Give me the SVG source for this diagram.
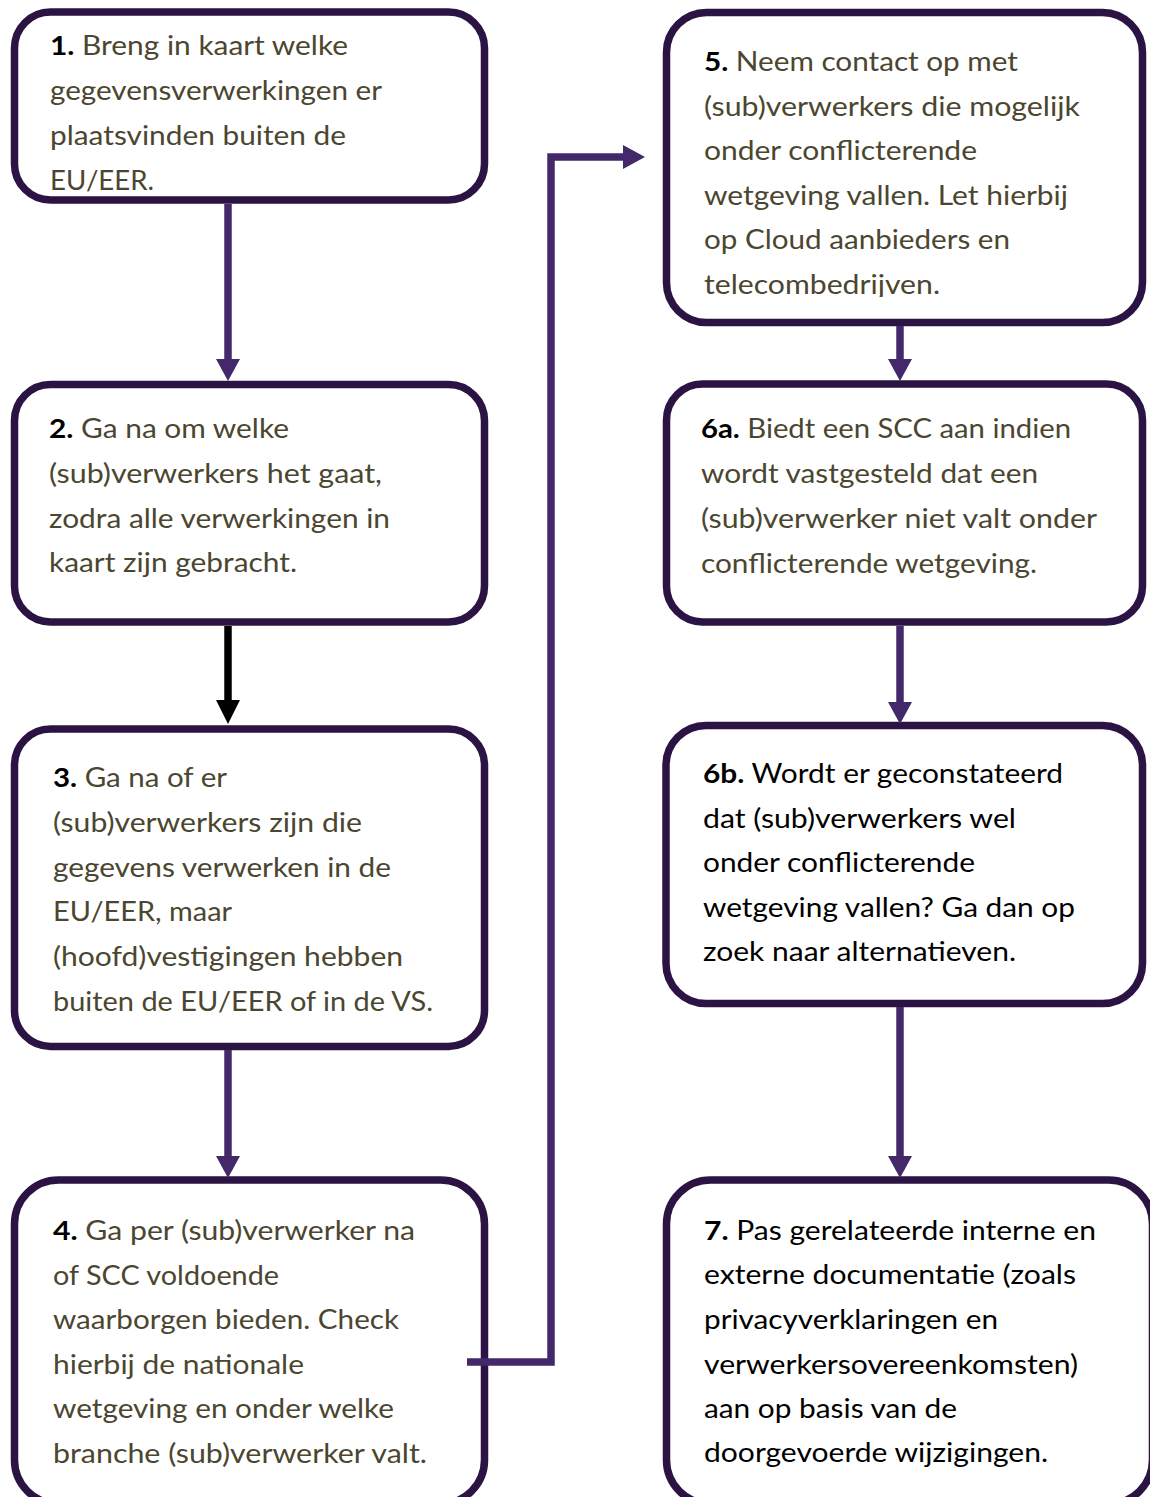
<svg xmlns="http://www.w3.org/2000/svg" width="1150" height="1497" viewBox="0 0 1150 1497">
<defs>
<style>
.box{fill:#ffffff;stroke:#2b1443;stroke-width:7.5}
.t{font-family:Lato,"Liberation Sans",sans-serif;font-size:26px;fill:#4b4630}
.k{fill:#000000}
.b{font-weight:bold;fill:#000000}
.c{fill:none;stroke:#43286a;stroke-width:7.5}
.cb{fill:none;stroke:#000000;stroke-width:7.5}
</style>
<marker id="ah" viewBox="0 0 22 24" refX="1" refY="12" markerWidth="22" markerHeight="24" markerUnits="userSpaceOnUse" orient="auto">
<path d="M0,0 L22,12 L0,24 Z" fill="#43286a"/>
</marker>
<marker id="ahb" viewBox="0 0 24 24" refX="1" refY="12" markerWidth="24" markerHeight="24" markerUnits="userSpaceOnUse" orient="auto">
<path d="M0,0 L24,12 L0,24 Z" fill="#000000"/>
</marker>
<clipPath id="clip5"><rect x="660" y="0" width="490" height="297"/></clipPath>
</defs>
<rect width="1150" height="1497" fill="#ffffff"/>

<g id="n1">
<rect class="box" x="14.5" y="12" width="470" height="188" rx="36"/>
<text class="t" x="50" y="55" textLength="298" lengthAdjust="spacingAndGlyphs"><tspan class="b">1.</tspan> Breng in kaart welke</text>
<text class="t" x="50" y="100" textLength="332" lengthAdjust="spacingAndGlyphs">gegevensverwerkingen er</text>
<text class="t" x="50" y="145" textLength="296" lengthAdjust="spacingAndGlyphs">plaatsvinden buiten de</text>
<text class="t" x="50" y="190" textLength="104" lengthAdjust="spacingAndGlyphs">EU/EER.</text>
</g>

<g id="n2">
<rect class="box" x="14.5" y="384.5" width="470" height="237.5" rx="36"/>
<text class="t" x="49" y="438" textLength="240" lengthAdjust="spacingAndGlyphs"><tspan class="b">2.</tspan> Ga na om welke</text>
<text class="t" x="49" y="483" textLength="333" lengthAdjust="spacingAndGlyphs">(sub)verwerkers het gaat,</text>
<text class="t" x="49" y="528" textLength="341" lengthAdjust="spacingAndGlyphs">zodra alle verwerkingen in</text>
<text class="t" x="49" y="572" textLength="248" lengthAdjust="spacingAndGlyphs">kaart zijn gebracht.</text>
</g>

<g id="n3">
<rect class="box" x="14.5" y="729" width="470" height="317.5" rx="36"/>
<text class="t" x="53" y="787" textLength="174" lengthAdjust="spacingAndGlyphs"><tspan class="b">3.</tspan> Ga na of er</text>
<text class="t" x="53" y="832" textLength="309" lengthAdjust="spacingAndGlyphs">(sub)verwerkers zijn die</text>
<text class="t" x="53" y="877" textLength="338" lengthAdjust="spacingAndGlyphs">gegevens verwerken in de</text>
<text class="t" x="53" y="921" textLength="179" lengthAdjust="spacingAndGlyphs">EU/EER, maar</text>
<text class="t" x="53" y="966" textLength="350" lengthAdjust="spacingAndGlyphs">(hoofd)vestigingen hebben</text>
<text class="t" x="53" y="1011" textLength="380" lengthAdjust="spacingAndGlyphs">buiten de EU/EER of in de VS.</text>
</g>

<g id="n4">
<rect class="box" x="14.5" y="1180" width="470" height="324" rx="44"/>
<text class="t" x="53" y="1240" textLength="362" lengthAdjust="spacingAndGlyphs"><tspan class="b">4.</tspan> Ga per (sub)verwerker na</text>
<text class="t" x="53" y="1285" textLength="226" lengthAdjust="spacingAndGlyphs">of SCC voldoende</text>
<text class="t" x="53" y="1329" textLength="346" lengthAdjust="spacingAndGlyphs">waarborgen bieden. Check</text>
<text class="t" x="53" y="1374" textLength="251" lengthAdjust="spacingAndGlyphs">hierbij de nationale</text>
<text class="t" x="53" y="1418" textLength="341" lengthAdjust="spacingAndGlyphs">wetgeving en onder welke</text>
<text class="t" x="53" y="1463" textLength="374" lengthAdjust="spacingAndGlyphs">branche (sub)verwerker valt.</text>
</g>

<g id="n5">
<rect class="box" x="666.5" y="12.5" width="476" height="310" rx="40"/>
<g clip-path="url(#clip5)">
<text class="t" x="704" y="71" textLength="314" lengthAdjust="spacingAndGlyphs"><tspan class="b">5.</tspan> Neem contact op met</text>
<text class="t" x="704" y="116" textLength="376" lengthAdjust="spacingAndGlyphs">(sub)verwerkers die mogelijk</text>
<text class="t" x="704" y="160" textLength="273" lengthAdjust="spacingAndGlyphs">onder conflicterende</text>
<text class="t" x="704" y="205" textLength="364" lengthAdjust="spacingAndGlyphs">wetgeving vallen. Let hierbij</text>
<text class="t" x="704" y="249" textLength="306" lengthAdjust="spacingAndGlyphs">op Cloud aanbieders en</text>
<text class="t" x="704" y="294" textLength="236" lengthAdjust="spacingAndGlyphs">telecombedrijven.</text>
</g>
</g>

<g id="n6a">
<rect class="box" x="666.5" y="384" width="476" height="238" rx="36"/>
<text class="t" x="701" y="438" textLength="370" lengthAdjust="spacingAndGlyphs"><tspan class="b">6a.</tspan> Biedt een SCC aan indien</text>
<text class="t" x="701" y="483" textLength="337" lengthAdjust="spacingAndGlyphs">wordt vastgesteld dat een</text>
<text class="t" x="701" y="528" textLength="396" lengthAdjust="spacingAndGlyphs">(sub)verwerker niet valt onder</text>
<text class="t" x="701" y="573" textLength="336" lengthAdjust="spacingAndGlyphs">conflicterende wetgeving.</text>
</g>

<g id="n6b">
<rect class="box" x="666" y="725.5" width="476.5" height="278" rx="40"/>
<text class="t k" x="703" y="783" textLength="360" lengthAdjust="spacingAndGlyphs"><tspan class="b">6b.</tspan> Wordt er geconstateerd</text>
<text class="t k" x="703" y="828" textLength="313" lengthAdjust="spacingAndGlyphs">dat (sub)verwerkers wel</text>
<text class="t k" x="703" y="872" textLength="272" lengthAdjust="spacingAndGlyphs">onder conflicterende</text>
<text class="t k" x="703" y="917" textLength="372" lengthAdjust="spacingAndGlyphs">wetgeving vallen? Ga dan op</text>
<text class="t k" x="703" y="961" textLength="313" lengthAdjust="spacingAndGlyphs">zoek naar alternatieven.</text>
</g>

<g id="n7">
<rect class="box" x="666.5" y="1180" width="486" height="324" rx="44"/>
<text class="t k" x="704" y="1240" textLength="392" lengthAdjust="spacingAndGlyphs"><tspan class="b">7.</tspan> Pas gerelateerde interne en</text>
<text class="t k" x="704" y="1284" textLength="372" lengthAdjust="spacingAndGlyphs">externe documentatie (zoals</text>
<text class="t k" x="704" y="1329" textLength="294" lengthAdjust="spacingAndGlyphs">privacyverklaringen en</text>
<text class="t k" x="704" y="1374" textLength="374" lengthAdjust="spacingAndGlyphs">verwerkersovereenkomsten)</text>
<text class="t k" x="704" y="1418" textLength="253" lengthAdjust="spacingAndGlyphs">aan op basis van de</text>
<text class="t k" x="704" y="1462" textLength="344" lengthAdjust="spacingAndGlyphs">doorgevoerde wijzigingen.</text>
</g>

<g id="connectors">
<path class="c" d="M228,204 V360" marker-end="url(#ah)"/>
<path class="cb" d="M228,626 V701" marker-end="url(#ahb)"/>
<path class="c" d="M228,1050 V1157" marker-end="url(#ah)"/>
<path class="c" d="M467,1362 H551 V157 H624" marker-end="url(#ah)"/>
<path class="c" d="M900,326 V360" marker-end="url(#ah)"/>
<path class="c" d="M900,626 V703" marker-end="url(#ah)"/>
<path class="c" d="M900,1007 V1157" marker-end="url(#ah)"/>
</g>
</svg>
